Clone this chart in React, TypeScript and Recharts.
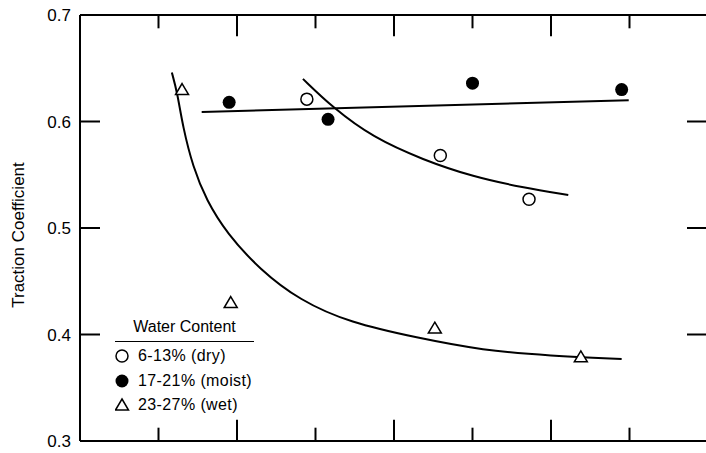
import React from 'react';
import { ComposedChart, Line, Scatter, XAxis, YAxis, ReferenceLine } from 'recharts';

// measured points
const dryPts = [
  { x: 2.89, y: 0.621 },
  { x: 4.59, y: 0.568 },
  { x: 5.72, y: 0.527 },
];
const moistPts = [
  { x: 1.9, y: 0.618 },
  { x: 3.16, y: 0.602 },
  { x: 5.0, y: 0.636 },
  { x: 6.9, y: 0.63 },
];
const wetPts = [
  { x: 1.3, y: 0.63 },
  { x: 1.92, y: 0.43 },
  { x: 4.52, y: 0.406 },
  { x: 6.38, y: 0.379 },
];

// fitted curves
const dryCurve = [
  { x: 2.84, y: 0.64 },
  { x: 3.22, y: 0.613 },
  { x: 3.73, y: 0.585 },
  { x: 4.37, y: 0.564 },
  { x: 5.01, y: 0.548 },
  { x: 5.64, y: 0.538 },
  { x: 6.22, y: 0.531 },
];
const moistCurve = [
  { x: 1.55, y: 0.609 },
  { x: 6.99, y: 0.62 },
];
const wetCurve = [
  { x: 1.17, y: 0.646 },
  { x: 1.24, y: 0.627 },
  { x: 1.31, y: 0.595 },
  { x: 1.44, y: 0.557 },
  { x: 1.61, y: 0.526 },
  { x: 1.87, y: 0.495 },
  { x: 2.29, y: 0.461 },
  { x: 2.8, y: 0.432 },
  { x: 3.44, y: 0.411 },
  { x: 4.29, y: 0.397 },
  { x: 5.13, y: 0.385 },
  { x: 5.99, y: 0.38 },
  { x: 6.9, y: 0.377 },
];

const xTicks = [1, 2, 3, 4, 5, 6, 7];
const yTicks = [0.3, 0.4, 0.5, 0.6, 0.7];
const yRightTicks = [0.4, 0.5, 0.6];
const yMin = 0.3;
const yMax = 0.7;

const legendItems = [
  { label: '6-13% (dry)', kind: 'dry' },
  { label: '17-21% (moist)', kind: 'moist' },
  { label: '23-27% (wet)', kind: 'wet' },
];

const FONT = '"Liberation Sans", Arial, Helvetica, sans-serif';
const PLOT_RIGHT = 708;
// inside tick lengths, in y units (plot is ~1065 px per unit)
const SHORT = 0.0125;
const LONG = 0.02;

const OpenCircle = (p: any) => <circle cx={p.cx} cy={p.cy} r={6} fill="#fff" stroke="#000" strokeWidth={1.5} />;
const FilledCircle = (p: any) => <circle cx={p.cx} cy={p.cy} r={6.5} fill="#000" />;
const Triangle = (p: any) => (
  <path
    d={`M${p.cx},${p.cy - 6} L${p.cx + 6.5},${p.cy + 5} L${p.cx - 6.5},${p.cy + 5} Z`}
    fill="#fff"
    stroke="#000"
    strokeWidth={1.5}
  />
);

const YTick = ({ y, payload }: any) => {
  const v = Number(payload.value);
  const showRight = yRightTicks.some((t) => Math.abs(t - v) < 1e-6);
  return (
    <g>
      <line x1={80} x2={100} y1={y} y2={y} stroke="#000" strokeWidth={2} />
      {showRight && <line x1={PLOT_RIGHT - 21} x2={PLOT_RIGHT} y1={y} y2={y} stroke="#000" strokeWidth={2} />}
      <text x={71} y={y} dy="0.36em" textAnchor="end" fontSize={17} fontFamily={FONT} fill="#000">
        {v.toFixed(1)}
      </text>
    </g>
  );
};

const YLabel = () => {
  const cx = 18;
  const cy = 235;
  return (
    <text x={cx} y={cy} transform={`rotate(-90 ${cx} ${cy})`} textAnchor="middle" dy="0.35em" fontSize={17} fontFamily={FONT} fill="#000">
      Traction Coefficient
    </text>
  );
};

function LegendMarker({ kind }: { kind: string }) {
  if (kind === 'dry') return <circle cx={7} cy={8} r={6} fill="#fff" stroke="#000" strokeWidth={1.5} />;
  if (kind === 'moist') return <circle cx={7} cy={8} r={6.5} fill="#000" />;
  return <path d="M7,2 L13.5,13 L0.5,13 Z" fill="#fff" stroke="#000" strokeWidth={1.5} />;
}

export default function App() {
  return (
    <div style={{ position: 'absolute', left: 0, top: 0, width: 706, height: 453, overflow: 'hidden', background: '#fff' }}>
      <ComposedChart width={708} height={453} margin={{ top: 0, right: 0, bottom: 0, left: 0 }}>
        <XAxis
          xAxisId="b"
          type="number"
          dataKey="x"
          domain={[0, 8]}
          height={12}
          tick={false}
          tickLine={false}
          axisLine={{ stroke: '#000', strokeWidth: 2 }}
        />
        <XAxis
          xAxisId="t"
          orientation="top"
          type="number"
          domain={[0, 8]}
          height={15}
          tick={false}
          tickLine={false}
          axisLine={{ stroke: '#000', strokeWidth: 2 }}
        />
        <YAxis
          yAxisId="l"
          type="number"
          domain={[yMin, yMax]}
          ticks={yTicks}
          interval={0}
          width={80}
          tickSize={0}
          tickMargin={0}
          tickLine={false}
          axisLine={{ stroke: '#000', strokeWidth: 2 }}
          tick={(props: any) => <YTick {...props} />}
          label={<YLabel />}
        />
        {/* inside tick marks, bottom and top frame */}
        {xTicks.map((v) => (
          <ReferenceLine
            key={`b${v}`}
            xAxisId="b"
            yAxisId="l"
            segment={[{ x: v, y: yMin }, { x: v, y: yMin + (v % 2 === 0 ? LONG : SHORT) }]}
            stroke="#000"
            strokeWidth={2}
            ifOverflow="visible"
          />
        ))}
        {xTicks.map((v) => (
          <ReferenceLine
            key={`t${v}`}
            xAxisId="b"
            yAxisId="l"
            segment={[{ x: v, y: yMax }, { x: v, y: yMax - (v % 2 === 0 ? LONG : SHORT) }]}
            stroke="#000"
            strokeWidth={2}
            ifOverflow="visible"
          />
        ))}
        <Line xAxisId="b" yAxisId="l" data={moistCurve} dataKey="y" type="linear" stroke="#000" strokeWidth={2} dot={false} isAnimationActive={false} />
        <Line xAxisId="b" yAxisId="l" data={dryCurve} dataKey="y" type="basis" stroke="#000" strokeWidth={2} dot={false} isAnimationActive={false} />
        <Line xAxisId="b" yAxisId="l" data={wetCurve} dataKey="y" type="basis" stroke="#000" strokeWidth={2} dot={false} isAnimationActive={false} />
        <Scatter xAxisId="b" yAxisId="l" data={dryPts} dataKey="y" shape={OpenCircle} isAnimationActive={false} />
        <Scatter xAxisId="b" yAxisId="l" data={moistPts} dataKey="y" shape={FilledCircle} isAnimationActive={false} />
        <Scatter xAxisId="b" yAxisId="l" data={wetPts} dataKey="y" shape={Triangle} isAnimationActive={false} />
      </ComposedChart>

      <div style={{ position: 'absolute', left: 115, top: 318, width: 139, fontFamily: FONT, fontSize: 16, color: '#000' }}>
        <div style={{ textAlign: 'center', lineHeight: '18px', paddingBottom: 5, borderBottom: '1.5px solid #000' }}>Water Content</div>
        {legendItems.map((it, i) => (
          <div key={it.label} style={{ position: 'absolute', left: 0, top: 30 + i * 24.5, display: 'flex', alignItems: 'center', whiteSpace: 'nowrap' }}>
            <svg width={16} height={16}>
              <LegendMarker kind={it.kind} />
            </svg>
            <span style={{ marginLeft: 7, lineHeight: '16px', letterSpacing: '0.4px' }}>{it.label}</span>
          </div>
        ))}
      </div>
    </div>
  );
}
